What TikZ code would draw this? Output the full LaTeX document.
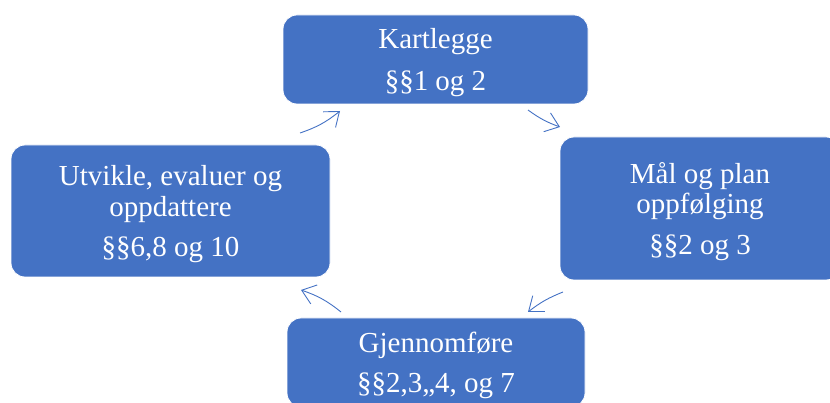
\documentclass[tikz,border=0pt]{standalone}
\usepackage{fontspec}
\setmainfont{Liberation Serif}
\usetikzlibrary{arrows.meta}
\definecolor{boxblue}{HTML}{4472C4}
\tikzset{
  stage/.style={draw=white, line width=0.8pt, fill=boxblue, rounded corners=14pt,
    text=white, align=center, inner sep=0pt, text depth=0pt,
    font=\fontsize{29}{30.5}\selectfont},
  cycle/.style={draw=boxblue, line width=0.9pt,
    -{Straight Barb[length=13pt,width=20pt,line width=0.9pt]}}
}
\begin{document}
\begin{tikzpicture}[x=1pt,y=-1pt]
\useasboundingbox (0,0) rectangle (830,403);
\begin{scope}
\clip (0,0) rectangle (830,403);
% the four stages of the cycle
\node[stage, minimum width=305pt, minimum height=89pt] (map) at (435.5,59.5)
  {Kartlegge\\[11pt]§§1 og 2};
\node[stage, minimum width=280pt, minimum height=143pt] (goal) at (700,208.5)
  {Mål og plan\\oppfølging\\[10pt]§§2 og 3};
\node[stage, minimum width=298pt, minimum height=89pt] (run) at (436,362.5)
  {Gjennomføre\\[9pt]§§2,3,,4, og 7};
\node[stage, minimum width=319pt, minimum height=132pt] (dev) at (170.5,211)
  {Utvikle, evaluer og\\oppdattere\\[10pt]§§6,8 og 10};
\end{scope}
% arrow ends in the gaps between the stages
\coordinate (a1s) at (300,133); \coordinate (a1e) at (340,111);
\coordinate (a2s) at (528,110); \coordinate (a2e) at (560,127);
\coordinate (a3s) at (563,292); \coordinate (a3e) at (528,312);
\coordinate (a4s) at (341,312); \coordinate (a4e) at (301,290);
\draw[cycle] (a1s) to[bend right=10] (a1e);
\draw[cycle] (a2s) to[bend right=8] (a2e);
\draw[cycle] (a3s) to[bend right=8] (a3e);
\draw[cycle] (a4s) to[bend right=10] (a4e);
\end{tikzpicture}
\end{document}
